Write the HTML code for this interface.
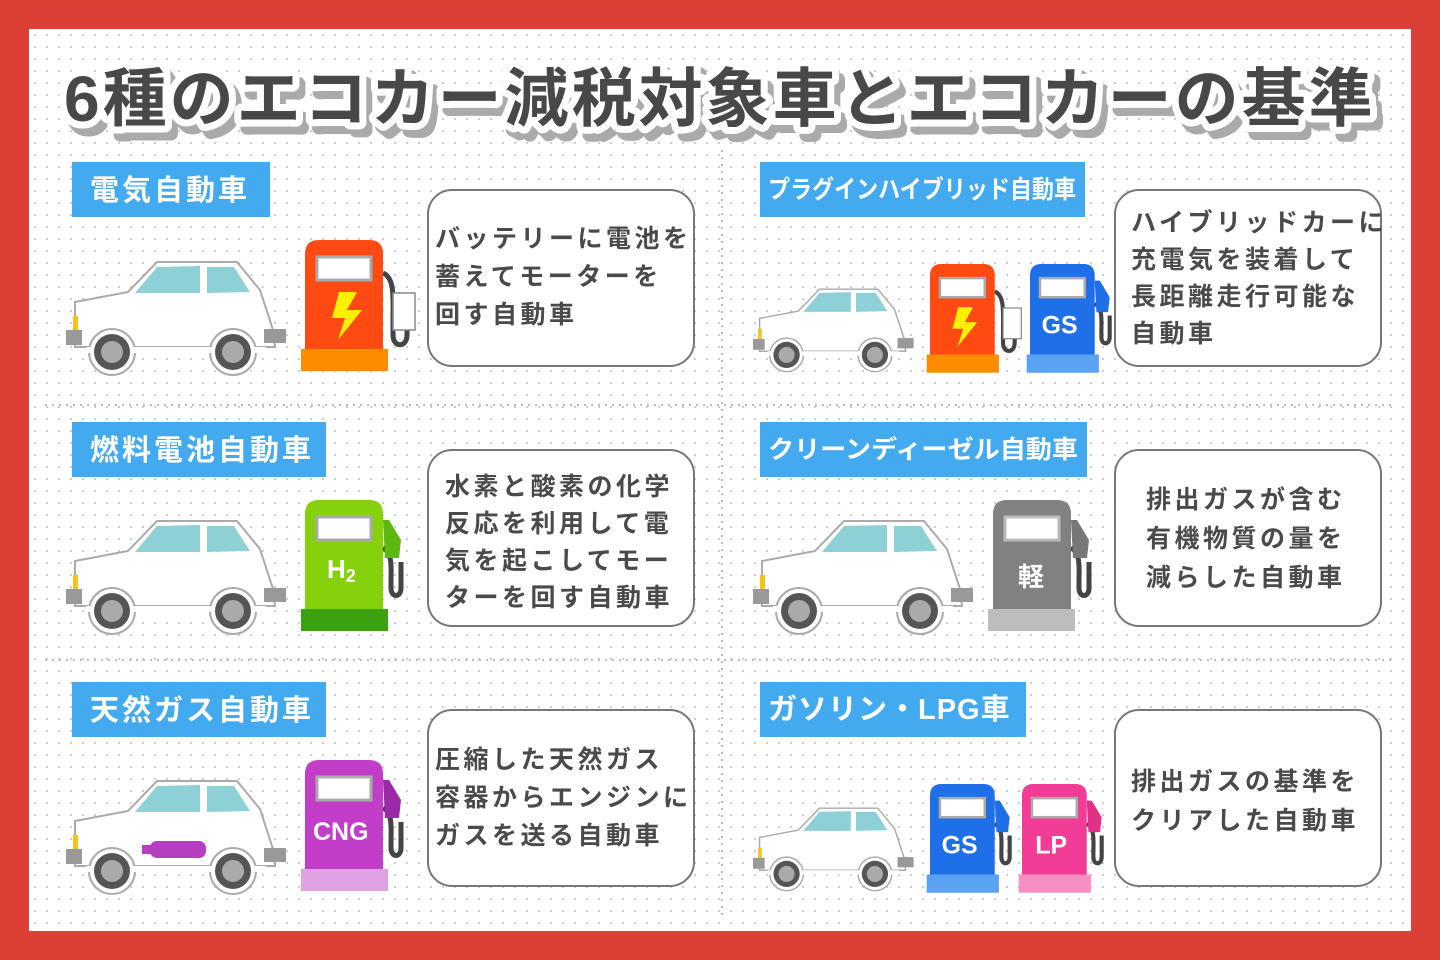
<!DOCTYPE html>
<html><head><meta charset="utf-8"><style>
html,body{margin:0;padding:0;width:1440px;height:960px;overflow:hidden}
body{background:#dc3f35}
.inner{position:absolute;left:29px;top:29px;width:1382px;height:902px;background-color:#fff;
background-image:radial-gradient(circle,#cfcfcf 1.1px,transparent 1.4px);background-size:12px 12px}
svg{position:absolute;left:0;top:0}
text{font-family:"Liberation Sans","Noto Sans CJK JP",sans-serif;font-weight:700}
.bt{font-size:25px;fill:#4a4a4a;letter-spacing:3.5px}
.lb{font-size:29px;fill:#fff;letter-spacing:3px}
.pt{fill:#fff;font-size:26px}
</style></head><body>
<div class="inner"></div>
<svg width="1440" height="960" viewBox="0 0 1440 960">
<defs>
<g id="car">
 <path d="M9,43 L62,33 L91,3 L171,3 L194,31 L207,71 L209,88 L9,88 Z" fill="#fff" stroke="#aaa" stroke-width="2"/>
 <path d="M69,34 L91,8 L134,7 L134,34 Z" fill="#8dd0d6"/>
 <path d="M141,8 L168,8 L184,33 L141,34 Z" fill="#8dd0d6"/>
 <circle cx="46" cy="93" r="23" fill="#fff" stroke="#aaa" stroke-width="2"/>
 <circle cx="167" cy="93" r="23" fill="#fff" stroke="#aaa" stroke-width="2"/>
 <rect x="20" y="88" width="180" height="6" fill="#fff"/>
 <circle cx="46" cy="93" r="18" fill="#555"/><circle cx="46" cy="93" r="11" fill="#aaa"/>
 <circle cx="167" cy="93" r="18" fill="#555"/><circle cx="167" cy="93" r="11" fill="#aaa"/>
 <rect x="0" y="71" width="16" height="15" fill="#999"/>
 <rect x="198" y="70" width="22" height="14" fill="#999"/>
 <rect x="7" y="57" width="5" height="14" fill="#f5c21b"/>
</g>
<g id="hose">
 <path d="M78,33 C90,38 88,58 88,80 L88,95 C88,108 102,108 102,95 L102,72" stroke="#444" stroke-width="5" fill="none"/>
</g>
<g id="nozzle">
 <path d="M78,48 C88,52 86,70 86,82 L86,88 C86,98 96,98 96,88 L96,62" stroke="#444" stroke-width="5" fill="none"/>
</g>
</defs>

<line x1="722" y1="150" x2="722" y2="915" stroke="#bbb" stroke-width="2" stroke-dasharray="2 5"/>
<line x1="45" y1="405" x2="1395" y2="405" stroke="#bbb" stroke-width="2" stroke-dasharray="2 5"/>
<line x1="45" y1="660" x2="1395" y2="660" stroke="#bbb" stroke-width="2" stroke-dasharray="2 5"/>

<g font-size="64" font-weight="900" style="letter-spacing:3px">
<text x="70" y="129" fill="#aaa" stroke="#aaa" stroke-width="14" stroke-linejoin="round">6種のエコカー減税対象車とエコカーの基準</text>
<text x="64" y="121" fill="#fff" stroke="#fff" stroke-width="14" stroke-linejoin="round">6種のエコカー減税対象車とエコカーの基準</text>
<text x="64" y="121" fill="#484848">6種のエコカー減税対象車とエコカーの基準</text>
</g>

<rect x="72" y="162" width="198" height="55" fill="#43aaf0"/>
<text class="lb" x="90" y="200">電気自動車</text>
<rect x="760" y="162" width="325" height="55" fill="#43aaf0"/>
<text class="lb" x="768" y="198" style="font-size:25px;letter-spacing:0" textLength="308" lengthAdjust="spacingAndGlyphs">プラグインハイブリッド自動車</text>
<rect x="72" y="422" width="254" height="55" fill="#43aaf0"/>
<text class="lb" x="90" y="460">燃料電池自動車</text>
<rect x="760" y="422" width="327" height="55" fill="#43aaf0"/>
<text class="lb" x="768" y="458" style="font-size:25px;letter-spacing:0" textLength="310" lengthAdjust="spacingAndGlyphs">クリーンディーゼル自動車</text>
<rect x="72" y="682" width="254" height="55" fill="#43aaf0"/>
<text class="lb" x="90" y="720">天然ガス自動車</text>
<rect x="760" y="682" width="266" height="55" fill="#43aaf0"/>
<text class="lb" x="768" y="719" style="letter-spacing:1px">ガソリン・LPG車</text>

<g fill="#fff" stroke="#777" stroke-width="2">
<rect x="428" y="190" width="266" height="176" rx="24"/>
<rect x="1115" y="190" width="266" height="176" rx="24"/>
<rect x="428" y="450" width="266" height="176" rx="24"/>
<rect x="1115" y="450" width="266" height="176" rx="24"/>
<rect x="428" y="710" width="266" height="176" rx="24"/>
<rect x="1115" y="710" width="266" height="176" rx="24"/>
</g>
<text class="bt" x="435" y="247">バッテリーに電池を</text>
<text class="bt" x="435" y="285">蓄えてモーターを</text>
<text class="bt" x="435" y="323">回す自動車</text>
<text class="bt" x="1131" y="231">ハイブリッドカーに</text>
<text class="bt" x="1131" y="268">充電気を装着して</text>
<text class="bt" x="1131" y="305">長距離走行可能な</text>
<text class="bt" x="1131" y="342">自動車</text>
<text class="bt" x="445" y="495">水素と酸素の化学</text>
<text class="bt" x="445" y="532">反応を利用して電</text>
<text class="bt" x="445" y="569">気を起こしてモー</text>
<text class="bt" x="445" y="606">ターを回す自動車</text>
<text class="bt" x="1146" y="508">排出ガスが含む</text>
<text class="bt" x="1146" y="547">有機物質の量を</text>
<text class="bt" x="1146" y="586">減らした自動車</text>
<text class="bt" x="435" y="768">圧縮した天然ガス</text>
<text class="bt" x="435" y="806">容器からエンジンに</text>
<text class="bt" x="435" y="844">ガスを送る自動車</text>
<text class="bt" x="1131" y="790">排出ガスの基準を</text>
<text class="bt" x="1131" y="829">クリアした自動車</text>

<use href="#car" transform="translate(66,259)"/>
<use href="#car" transform="translate(66,518)"/>
<use href="#car" transform="translate(66,778)"/>
<rect x="150" y="841" width="56" height="17" rx="7" fill="#b63ec0"/>
<rect x="142" y="845" width="10" height="9" fill="#b63ec0"/>
<use href="#car" transform="translate(753,518)"/>
<use href="#car" transform="translate(753,287) scale(0.73)"/>
<use href="#car" transform="translate(753,806) scale(0.73)"/>

<g transform="translate(305,240)">
 <use href="#hose"/>
 <rect x="88" y="53" width="22" height="37" fill="#fff" stroke="#888" stroke-width="1.5"/>
 <path d="M0,110 L0,14 Q0,0 14,0 L64,0 Q78,0 78,14 L78,110 Z" fill="#ff4a12"/>
 <rect x="12" y="17" width="54" height="23" fill="#fff" stroke="#aaa" stroke-width="3"/>
 <path d="M34,52 L52,52 L42,70 L57,70 L33,100 L40,78 L27,78 Z" fill="#ffef00"/>
 <rect x="-4" y="109" width="87" height="22" fill="#ff8c00"/>
</g>
<g transform="translate(930,264) scale(0.83)">
 <use href="#hose"/>
 <rect x="88" y="53" width="22" height="37" fill="#fff" stroke="#888" stroke-width="1.5"/>
 <path d="M0,110 L0,14 Q0,0 14,0 L64,0 Q78,0 78,14 L78,110 Z" fill="#ff4a12"/>
 <rect x="12" y="17" width="54" height="23" fill="#fff" stroke="#aaa" stroke-width="3"/>
 <path d="M34,52 L52,52 L42,70 L57,70 L33,100 L40,78 L27,78 Z" fill="#ffef00"/>
 <rect x="-4" y="109" width="87" height="22" fill="#ff8c00"/>
</g>
<g transform="translate(1030,264) scale(0.83)">
 <use href="#nozzle"/>
 <path d="M78,20 L84,20 L96,40 L94,58 L80,58 Z" fill="#1f6fe8"/>
 <path d="M0,110 L0,14 Q0,0 14,0 L64,0 Q78,0 78,14 L78,110 Z" fill="#1f6fe8"/>
 <rect x="12" y="17" width="54" height="23" fill="#fff" stroke="#aaa" stroke-width="3"/>
 <text class="pt" x="14" y="84" style="font-size:30px">GS</text>
 <rect x="-4" y="109" width="87" height="22" fill="#5aa2f2"/>
</g>
<g transform="translate(305,500)">
 <use href="#nozzle"/>
 <path d="M78,20 L84,20 L96,40 L94,58 L80,58 Z" fill="#5cb80f"/>
 <path d="M0,110 L0,14 Q0,0 14,0 L64,0 Q78,0 78,14 L78,110 Z" fill="#85d20c"/>
 <rect x="12" y="17" width="54" height="23" fill="#fff" stroke="#aaa" stroke-width="3"/>
 <text class="pt" x="22" y="78">H<tspan font-size="18" dy="4">2</tspan></text>
 <rect x="-4" y="109" width="87" height="22" fill="#3ba10e"/>
</g>
<g transform="translate(993,500)">
 <use href="#nozzle"/>
 <path d="M78,20 L84,20 L96,40 L94,58 L80,58 Z" fill="#777"/>
 <path d="M0,110 L0,14 Q0,0 14,0 L64,0 Q78,0 78,14 L78,110 Z" fill="#818181"/>
 <rect x="12" y="17" width="54" height="23" fill="#fff" stroke="#bbb" stroke-width="3"/>
 <text class="pt" x="25" y="86">軽</text>
 <rect x="-5" y="109" width="87" height="22" fill="#bdbdbd"/>
</g>
<g transform="translate(305,760)">
 <use href="#nozzle"/>
 <path d="M78,20 L84,20 L96,40 L94,58 L80,58 Z" fill="#9a2aa8"/>
 <path d="M0,110 L0,14 Q0,0 14,0 L64,0 Q78,0 78,14 L78,110 Z" fill="#c23ec8"/>
 <rect x="12" y="17" width="54" height="23" fill="#fff" stroke="#aaa" stroke-width="3"/>
 <text class="pt" x="8" y="80" style="font-size:25px">CNG</text>
 <rect x="-4" y="109" width="87" height="22" fill="#e0a2e2"/>
</g>
<g transform="translate(930,784) scale(0.83)">
 <use href="#nozzle"/>
 <path d="M78,20 L84,20 L96,40 L94,58 L80,58 Z" fill="#1f6fe8"/>
 <path d="M0,110 L0,14 Q0,0 14,0 L64,0 Q78,0 78,14 L78,110 Z" fill="#1f6fe8"/>
 <rect x="12" y="17" width="54" height="23" fill="#fff" stroke="#aaa" stroke-width="3"/>
 <text class="pt" x="14" y="84" style="font-size:30px">GS</text>
 <rect x="-4" y="109" width="87" height="22" fill="#5aa2f2"/>
</g>
<g transform="translate(1022,784) scale(0.83)">
 <use href="#nozzle"/>
 <path d="M78,20 L84,20 L96,40 L94,58 L80,58 Z" fill="#e22f88"/>
 <path d="M0,110 L0,14 Q0,0 14,0 L64,0 Q78,0 78,14 L78,110 Z" fill="#f23d97"/>
 <rect x="12" y="17" width="54" height="23" fill="#fff" stroke="#aaa" stroke-width="3"/>
 <text class="pt" x="16" y="84" style="font-size:30px">LP</text>
 <rect x="-4" y="109" width="87" height="22" fill="#f78fc3"/>
</g>
</svg>
</body></html>
